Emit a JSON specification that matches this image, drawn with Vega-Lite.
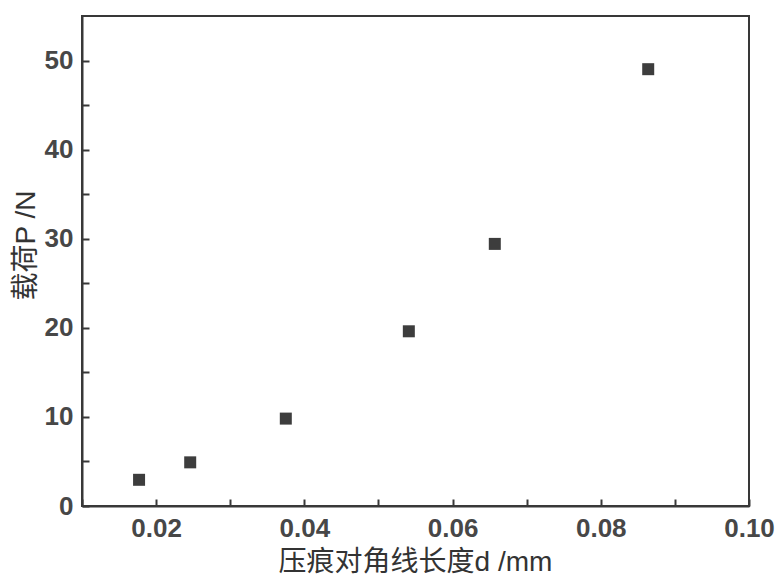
{
  "$schema": "https://vega.github.io/schema/vega-lite/v6.json",
  "width": 667,
  "height": 490,
  "autosize": {"type": "none"},
  "padding": {"left": 82, "top": 16, "right": 30, "bottom": 73},
  "background": "white",
  "config": {
    "view": {"stroke": "#383838", "strokeWidth": 2},
    "axis": {
      "domainColor": "#383838",
      "domainWidth": 2,
      "tickColor": "#383838",
      "tickWidth": 2,
      "tickSize": -7,
      "ticks": true,
      "grid": false,
      "labelFont": "Liberation Sans",
      "labelFontSize": 26,
      "labelFontWeight": "bold",
      "labelColor": "#474747",
      "labelFlush": false,
      "labelOverlap": false,
      "titleFont": "Liberation Sans, Noto Sans CJK SC",
      "titleFontSize": 28,
      "titleFontWeight": "normal",
      "titleColor": "#333333"
    }
  },
  "data": {
    "values": [
      {"d": 0.0177, "P": 2.94},
      {"d": 0.0246, "P": 4.9},
      {"d": 0.0375, "P": 9.81},
      {"d": 0.0541, "P": 19.61},
      {"d": 0.0657, "P": 29.42},
      {"d": 0.0864, "P": 49.03}
    ]
  },
  "mark": {"type": "point", "shape": "square", "filled": true, "size": 144, "color": "#3d3d3d", "opacity": 1},
  "encoding": {
    "x": {
      "field": "d",
      "type": "quantitative",
      "scale": {"domain": [0.01, 0.1], "nice": false, "zero": false},
      "axis": {
        "title": "压痕对角线长度d /mm",
        "values": [0.01, 0.02, 0.03, 0.04, 0.05, 0.06, 0.07, 0.08, 0.09, 0.1],
        "format": ".2f",
        "labelExpr": "round(datum.value * 100) % 2 == 0 ? datum.label : ''",
        "labelPadding": 16,
        "titleX": 333,
        "titleY": 56,
        "titleAlign": "center",
        "titleBaseline": "middle",
        "encode": {"ticks": {"update": {"y2": {"signal": "round(datum.value * 100) % 2 == 0 ? -7 : -4"}}}}
      }
    },
    "y": {
      "field": "P",
      "type": "quantitative",
      "scale": {"domain": [0, 55], "nice": false},
      "axis": {
        "title": "载荷P /N",
        "values": [0, 5, 10, 15, 20, 25, 30, 35, 40, 45, 50],
        "labelExpr": "datum.value % 10 == 0 ? datum.label : ''",
        "labelPadding": 16,
        "titleX": -56,
        "titleY": 229,
        "titleAlign": "center",
        "titleBaseline": "middle",
        "encode": {"ticks": {"update": {"x2": {"signal": "datum.value % 10 == 0 ? 7 : 4"}}}}
      }
    }
  }
}
